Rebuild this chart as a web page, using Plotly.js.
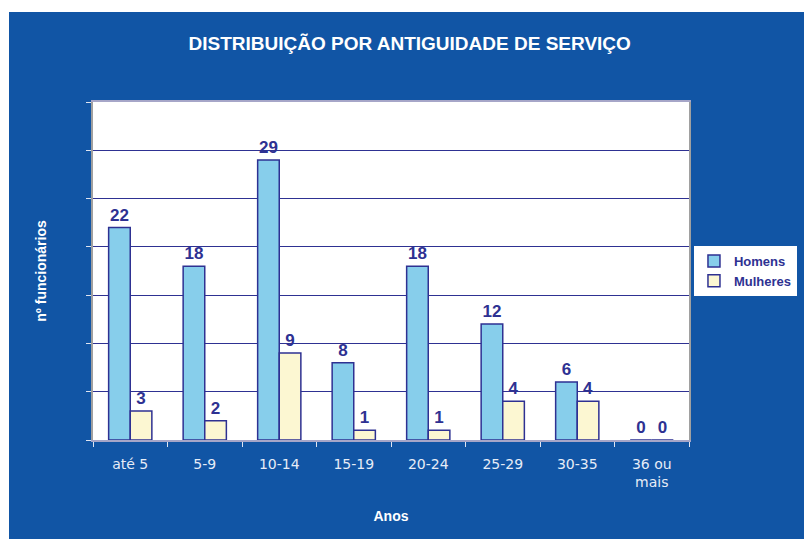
<!DOCTYPE html>
<html>
<head>
<meta charset="utf-8">
<script src="https://cdn.plot.ly/plotly-3.0.1.min.js"></script>
<style>
  html, body { margin: 0; padding: 0; background: #ffffff; width: 804px; height: 539px; overflow: hidden; }
  #chart { position: absolute; left: 9px; top: 12px; width: 795px; height: 527px; }
</style>
</head>
<body>
<div id="chart"></div>
<script>
const categories = ["até 5", "5-9", "10-14", "15-19", "20-24", "25-29", "30-35", "36 ou<br>mais"];
const homens = [22, 18, 29, 8, 18, 12, 6, 0];
const mulheres = [3, 2, 9, 1, 1, 4, 4, 0];
const seriesNames = ["Homens", "Mulheres"];
const chartTitle = "DISTRIBUIÇÃO POR ANTIGUIDADE DE SERVIÇO";
const xTitle = "Anos";
const yTitle = "nº funcionários";

const navy = "#2E3192";
const bgBlue = "#1155A5";
const labelFont = { family: "Liberation Sans, Arial, sans-serif", size: 17, color: navy, weight: "bold" };

const traces = [
  {
    type: "bar", name: seriesNames[0], x: categories, y: homens,
    marker: { color: "#87CEEB", line: { color: navy, width: 1.5 } },
    text: homens.map(String), textposition: "outside", cliponaxis: false,
    textfont: labelFont, hoverinfo: "none"
  },
  {
    type: "bar", name: seriesNames[1], x: categories, y: mulheres,
    marker: { color: "#FCF7D2", line: { color: navy, width: 1.5 } },
    text: mulheres.map(String), textposition: "outside", cliponaxis: false,
    textfont: labelFont, hoverinfo: "none"
  }
];

const layout = {
  width: 795, height: 527,
  paper_bgcolor: bgBlue, plot_bgcolor: "#ffffff",
  margin: { l: 84, r: 115, t: 90, b: 99, autoexpand: false },
  barmode: "group", bargap: 0.42, bargroupgap: 0,
  showlegend: true,
  title: {
    text: chartTitle, x: 0.504, xanchor: "center", y: 0.941, yanchor: "middle", yref: "container",
    font: { family: "Liberation Sans, Arial, sans-serif", size: 19, color: "#ffffff", weight: "bold" }
  },
  xaxis: {
    type: "category",
    tickson: "boundaries", ticks: "outside", ticklen: 5, tickcolor: "#dfe5f2", tickwidth: 1,
    showline: true, linecolor: "#a6a6c8", linewidth: 2, mirror: true,
    showgrid: false, ticklabelstandoff: 10,
    tickfont: { family: "DejaVu Sans, Liberation Sans, sans-serif", size: 14, color: "#e6ecf7" },
    title: { text: xTitle, standoff: 22, font: { family: "Liberation Sans, Arial, sans-serif", size: 14, color: "#ffffff", weight: "bold" } },
    fixedrange: true
  },
  yaxis: {
    range: [0, 35], dtick: 5, tick0: 0,
    showticklabels: false, ticks: "outside", ticklen: 5, tickcolor: "#dfe5f2", tickwidth: 1,
    showgrid: true, gridcolor: navy, gridwidth: 1,
    showline: true, linecolor: "#a0a0a0", linewidth: 2, mirror: true,
    zeroline: false,
    title: { text: yTitle, standoff: 36, font: { family: "Liberation Sans, Arial, sans-serif", size: 14, color: "#ffffff", weight: "bold" } },
    fixedrange: true
  },
  legend: {
    xref: "container", yref: "container",
    x: 0.8616, xanchor: "left", y: 0.556, yanchor: "top",
    bgcolor: "#ffffff", borderwidth: 0,
    font: { family: "Liberation Sans, Arial, sans-serif", size: 13, color: navy, weight: "bold" },
    itemwidth: 30, tracegroupgap: 2
  }
};

Plotly.newPlot("chart", traces, layout, { staticPlot: true, displayModeBar: false });
</script>
</body>
</html>
